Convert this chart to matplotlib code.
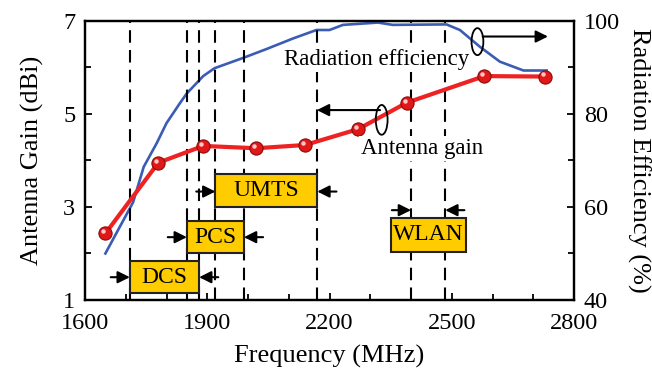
import matplotlib.pyplot as plt
import matplotlib.transforms as mtransforms
from matplotlib.patches import Ellipse, Rectangle
import numpy as np

plt.rcParams['font.family'] = ['Liberation Serif', 'DejaVu Serif']
plt.rcParams['mathtext.fontset'] = 'stix'

# measured antenna gain (dBi)
gain_freq = [1650, 1780, 1890, 2020, 2140, 2270, 2390, 2580, 2730]
gain_dbi = [2.43, 3.95, 4.31, 4.26, 4.33, 4.67, 5.24, 5.81, 5.80]

# measured radiation efficiency (%)
eff_freq = [1650, 1718, 1744, 1776, 1800, 1833, 1850, 1890, 1918, 1991, 2045,
            2111, 2168, 2200, 2233, 2319, 2355, 2487, 2520, 2569, 2618, 2676, 2733]
eff_pct = [50, 61, 68.6, 73.7, 78, 82.3, 84.4, 88.1, 89.8, 92.1, 93.9,
           96.2, 98, 98, 99.1, 99.6, 99.1, 99.2, 98, 94.4, 91.2, 89.3, 89.3]

# operating bands (MHz)
band_names = ['DCS', 'PCS', 'UMTS', 'WLAN']
band_lo = [1710, 1850, 1920, 2400]
band_hi = [1880, 1990, 2170, 2484]

fig = plt.figure(figsize=(6.52, 3.79), dpi=100)
ax = fig.add_axes([0.1304, 0.2084, 0.75, 0.737])
ax2 = ax.twinx()
ax.set_zorder(ax2.get_zorder() + 1)
ax.patch.set_visible(False)

# band edges
for f in sorted(set(band_lo + band_hi)):
    ax.axvline(f, color='black', lw=1.5, dashes=(6, 3.5), zorder=1)

ax2.plot(eff_freq, eff_pct, color='#3a5cb4', lw=1.9)

ax.plot(gain_freq, gain_dbi, color='#ee2222', lw=3, zorder=4)
ax.plot(gain_freq, gain_dbi, 'o', ms=9.5, mfc='#e01818', mec='#8a0c0c', mew=0.8, zorder=5)
hl = ax.transData + mtransforms.ScaledTranslation(-1.5 / 72, 1.5 / 72, fig.dpi_scale_trans)
ax.plot(gain_freq, gain_dbi, 'o', ms=3.2, color='#ffc8c8', mec='none', transform=hl, zorder=6)

# band boxes: (y bottom, y top, box left, box right, arrow y)
box_rows = {
    'DCS': (1.14, 1.84, 1710, 1880, 1.49),
    'PCS': (2.00, 2.70, 1850, 1990, 2.35),
    'UMTS': (2.99, 3.71, 1920, 2170, 3.33),
    'WLAN': (2.04, 2.76, 2350, 2535, 2.93),
}
arr_len = 47
arrow_kw = dict(arrowstyle='-|>', color='black', lw=1.5,
                mutation_scale=18, shrinkA=0, shrinkB=0)
for name, lo, hi in zip(band_names, band_lo, band_hi):
    y0, y1, bx0, bx1, ay = box_rows[name]
    ax.add_patch(Rectangle((bx0, y0), bx1 - bx0, y1 - y0, facecolor='#ffcc00',
                           edgecolor='#222222', lw=1.5, zorder=3))
    ax.text((bx0 + bx1) / 2, (y0 + y1) / 2, name, ha='center', va='center',
            fontsize=17, zorder=4)
    ax.annotate('', xy=(lo, ay), xytext=(lo - arr_len, ay), zorder=4, arrowprops=arrow_kw)
    ax.annotate('', xy=(hi, ay), xytext=(hi + arr_len, ay), zorder=4, arrowprops=arrow_kw)

# curve labels with axis pointers
label_bg = dict(facecolor='white', edgecolor='none', pad=1.5)
ax.text(2315, 6.17, 'Radiation efficiency', ha='center', va='center', fontsize=16.5,
        zorder=6, bbox=label_bg)
ax.text(2427, 4.25, 'Antenna gain', ha='center', va='center', fontsize=16.5,
        zorder=6, bbox=label_bg)
ax.add_patch(Ellipse((2563, 6.55), 29, 0.58, fill=False, lw=1.3, color='black', zorder=6))
ax.add_patch(Ellipse((2328, 4.87), 29, 0.64, fill=False, lw=1.3, color='black', zorder=6))
ax.annotate('', xy=(2736, 6.66), xytext=(2576, 6.66), zorder=6, arrowprops=arrow_kw)
ax.annotate('', xy=(2169, 5.08), xytext=(2324, 5.08), zorder=6, arrowprops=arrow_kw)

ax.set_xlim(1600, 2800)
ax.set_ylim(1, 7)
ax2.set_ylim(40, 100)
ax.set_xticks([1600, 1900, 2200, 2500, 2800])
ax.set_xticks(np.arange(1600, 2801, 100), minor=True)
ax.set_yticks([1, 3, 5, 7])
ax.set_yticks([2, 4, 6], minor=True)
ax2.set_yticks([40, 60, 80, 100])
ax2.set_yticks([50, 70, 90], minor=True)

for a in (ax, ax2):
    a.tick_params(which='both', direction='in', labelsize=17.5, width=1.3)
    a.tick_params(which='major', length=5)
    a.tick_params(which='minor', length=4)
    for s in a.spines.values():
        s.set_linewidth(1.6)
ax.tick_params(axis='x', pad=9)
ax.tick_params(axis='y', pad=7)
ax2.tick_params(axis='y', pad=7)

ax.set_xlabel('Frequency (MHz)', fontsize=19, labelpad=8)
ax.set_ylabel('Antenna Gain (dBi)', fontsize=19, labelpad=14)
ax2.set_ylabel('Radiation Efficiency (%)', fontsize=19, rotation=270, labelpad=22)

fig.savefig('out.png', dpi=100)
